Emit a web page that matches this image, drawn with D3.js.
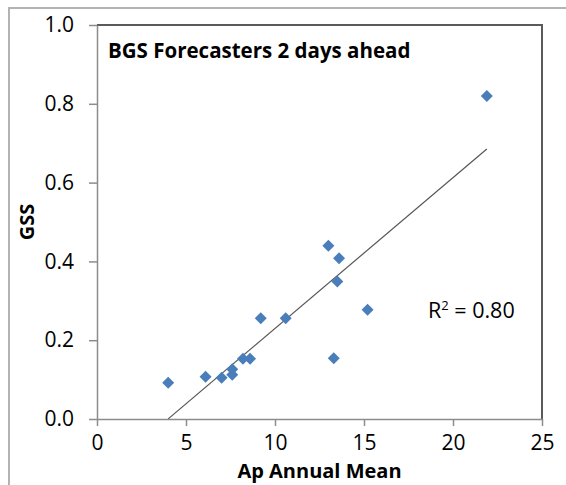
<!DOCTYPE html>
<html lang="en">
<head>
  <meta charset="UTF-8" />
  <title>BGS Forecasters 2 days ahead</title>
  <script src="https://d3js.org/d3.v7.min.js"></script>
  <style>
    body { margin: 0; background: #fff; }
    text { font-family: "Open Sans", "DejaVu Sans", sans-serif; fill: #000; }
  </style>
</head>
<body>
  <svg id="chart" width="566" height="485"></svg>

  <script>
    // Ap annual mean vs GSS, one point per year
    const apMean = [4.0, 6.1, 7.0, 7.6, 7.6, 8.2, 8.6, 9.2, 10.6, 13.0, 13.6, 13.5, 15.2, 13.3, 21.9];
    const gss    = [0.092, 0.107, 0.105, 0.112, 0.126, 0.153, 0.153, 0.256, 0.256, 0.440, 0.408, 0.349, 0.277, 0.154, 0.820];
    const xTicks = [0, 5, 10, 15, 20, 25];
    const yTicks = [0, 0.2, 0.4, 0.6, 0.8, 1.0];
    const r2Label = "0.80";

    const svg = d3.select("#chart");
    const plotL = 97, plotR = 542, plotT = 25, plotB = 419;

    const x = d3.scaleLinear().domain([0, 25]).range([plotL, plotR]);
    const y = d3.scaleLinear().domain([0, 1]).range([plotB, plotT]);

    // outer chart frame (cut off at right and bottom)
    svg.append("rect")
      .attr("x", 9).attr("y", 8)
      .attr("width", 600).attr("height", 520)
      .attr("fill", "#fff")
      .attr("stroke", "#b3b3b3")
      .attr("stroke-width", 2);

    // plot area border top/right
    svg.append("path")
      .attr("d", `M${plotL},${plotT}H${plotR}V${plotB}`)
      .attr("fill", "none")
      .attr("stroke", "#5a5a5a")
      .attr("stroke-width", 2);

    const yAxis = svg.append("g")
      .attr("transform", `translate(${plotL},0)`)
      .call(d3.axisLeft(y).tickValues(yTicks).tickFormat(d3.format(".1f"))
        .tickSizeInner(8).tickSizeOuter(0).tickPadding(15));

    const xAxis = svg.append("g")
      .attr("transform", `translate(0,${plotB})`)
      .call(d3.axisBottom(x).tickValues(xTicks)
        .tickSizeInner(7).tickSizeOuter(0).tickPadding(9));

    [xAxis, yAxis].forEach(g => {
      g.select(".domain").attr("stroke", "#8c8c8c").attr("stroke-width", 1.5);
      g.selectAll(".tick line").attr("stroke", "#8c8c8c").attr("stroke-width", 1.5);
      g.selectAll(".tick text").style("font-size", "21px").attr("fill", "#000");
    });

    // least-squares trend line over the data range
    const mx = d3.mean(apMean), my = d3.mean(gss);
    const slope = d3.sum(apMean, (v, i) => (v - mx) * (gss[i] - my)) / d3.sum(apMean, v => (v - mx) ** 2);
    const icpt = my - slope * mx;
    const [x0, x1] = d3.extent(apMean);
    svg.append("line")
      .attr("x1", x(x0)).attr("y1", y(slope * x0 + icpt))
      .attr("x2", x(x1)).attr("y2", y(slope * x1 + icpt))
      .attr("stroke", "#555")
      .attr("stroke-width", 1.2);

    // diamonds
    const diamond = d3.symbol().type(d3.symbolSquare).size(72);
    svg.append("g").selectAll("path")
      .data(apMean.map((v, i) => [v, gss[i]]))
      .join("path")
      .attr("d", diamond)
      .attr("transform", d => `translate(${x(d[0])},${y(d[1])}) rotate(45)`)
      .attr("fill", "#4a7ebb");

    // texts
    svg.append("text")
      .attr("x", 108).attr("y", 58)
      .style("font-size", "20.5px").style("font-weight", "bold")
      .text("BGS Forecasters 2 days ahead");

    const r2 = svg.append("text")
      .attr("x", 428).attr("y", 318)
      .style("font-size", "21.5px");
    r2.append("tspan").text("R");
    r2.append("tspan").attr("dy", -8).style("font-size", "13px").text("2");
    r2.append("tspan").attr("dy", 8).text(" = " + r2Label);

    svg.append("text")
      .attr("x", (plotL + plotR) / 2).attr("y", 478)
      .attr("text-anchor", "middle")
      .style("font-size", "20px").style("font-weight", "bold")
      .text("Ap Annual Mean");

    svg.append("text")
      .attr("transform", `translate(34,${(plotT + plotB) / 2}) rotate(-90)`)
      .attr("text-anchor", "middle")
      .style("font-size", "20px").style("font-weight", "bold")
      .text("GSS");
  </script>
</body>
</html>
